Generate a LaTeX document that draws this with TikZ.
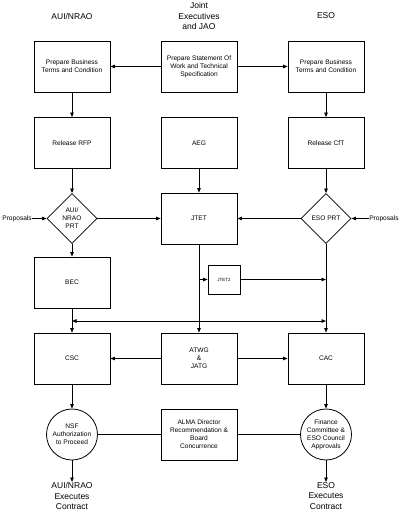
\documentclass[tikz,border=0pt]{standalone}
\usepackage{fontspec}
\setmainfont{Liberation Sans}
\usetikzlibrary{arrows.meta,shapes.geometric}
\begin{document}
\begin{tikzpicture}[x=1pt,y=-1pt,
  line width=0.8pt,
  >={Triangle[length=4.5pt,width=3.5pt]},
  stepbox/.style={draw,minimum width=76pt,minimum height=51pt,inner sep=1pt,align=center,font=\fontsize{6.6}{8}\selectfont},
  decbox/.style={draw,diamond,minimum width=50pt,minimum height=50pt,inner sep=0pt,align=center,font=\fontsize{6.6}{8}\selectfont},
  circbox/.style={draw,circle,minimum size=51pt,inner sep=0pt,align=center,font=\fontsize{6.6}{8}\selectfont},
  head/.style={align=center,inner sep=0pt,font=\fontsize{8.5}{10.5}\selectfont},
  plain/.style={inner sep=0pt,font=\fontsize{6.6}{8}\selectfont}]
\useasboundingbox (0,0) rectangle (401,513);
\node[head] (hA) at (72,16) {AUI/NRAO};
\node[head] (hJ) at (199,16) {Joint\\Executives\\and JAO};
\node[head] (hE) at (326,16) {ESO};

\node[stepbox] (pbL) at (72,66.5) {Prepare Business\\Terms and Condition};
\node[stepbox] (sow) at (199,66.5) {Prepare Statement Of\\Work and Technical\\Specification};
\node[stepbox] (pbR) at (326,66.5) {Prepare Business\\Terms and Condition};

\node[stepbox] (rfp) at (72,143) {Release RFP};
\node[stepbox] (aeg) at (199,143) {AEG};
\node[stepbox] (cft) at (326,143) {Release CfT};

\node[decbox] (dL) at (72,218.5) {AUI/\\NRAO\\PRT};
\node[stepbox] (jtet) at (199,218.5) {JTET};
\node[decbox] (dR) at (326,218.5) {ESO PRT};
\node[plain,anchor=west] (propL) at (2,218.5) {Proposals};
\node[plain,anchor=east] (propR) at (399,218.5) {Proposals};

\node[stepbox] (bec) at (72,282.5) {BEC};
\node[draw,minimum width=32pt,minimum height=29pt,inner sep=0pt,font=\fontsize{4.5}{5}\selectfont] (jtet2) at (224,279.5) {JTET2};

\node[stepbox] (csc) at (72,358.5) {CSC};
\node[stepbox] (atwg) at (199,358.5) {ATWG\\\&\\JATG};
\node[stepbox] (cac) at (326,358.5) {CAC};

\node[circbox] (nsf) at (72,434.5) {NSF\\Authorization\\to Proceed};
\node[stepbox] (alma) at (199,434.5) {ALMA Director\\Recommendation \&\\Board\\Concurrence};
\node[circbox] (fin) at (326,434.5) {Finance\\Committee \&\\ESO Council\\Approvals};

\node[head,anchor=north] (exL) at (72,482) {AUI/NRAO\\Executes\\Contract};
\node[head,anchor=north] (exR) at (326,482) {ESO\\Executes\\Contract};

\coordinate (j1) at (199,279.5);
\coordinate (j2) at (326,279.5);
\coordinate (hl) at (72,321);
\coordinate (hr) at (326,321);

\draw[->] (sow) -- (pbL);
\draw[->] (sow) -- (pbR);
\draw[->] (pbL) -- (rfp);
\draw[->] (pbR) -- (cft);
\draw[->] (rfp) -- (dL);
\draw[->] (aeg) -- (jtet);
\draw[->] (cft) -- (dR);
\draw[->] (propL) -- (dL);
\draw[->] (propR) -- (dR);
\draw[->] (dL) -- (jtet);
\draw[->] (dR) -- (jtet);
\draw[->] (dL) -- (bec);
\draw[->] (jtet) -- (atwg);
\draw[->] (dR) -- (cac);
\draw[->] (j1) -- (jtet2);
\draw[->] (jtet2) -- (j2);
\draw[<->] (hl) -- (hr);
\draw[->] (bec) -- (csc);
\draw[->] (atwg) -- (csc);
\draw[->] (atwg) -- (cac);
\draw[->] (csc) -- (nsf);
\draw[->] (cac) -- (fin);
\draw (nsf) -- (alma);
\draw (alma) -- (fin);
\draw[->] (nsf) -- (exL.north);
\draw[->] (fin) -- (exR.north);
\end{tikzpicture}
\end{document}
